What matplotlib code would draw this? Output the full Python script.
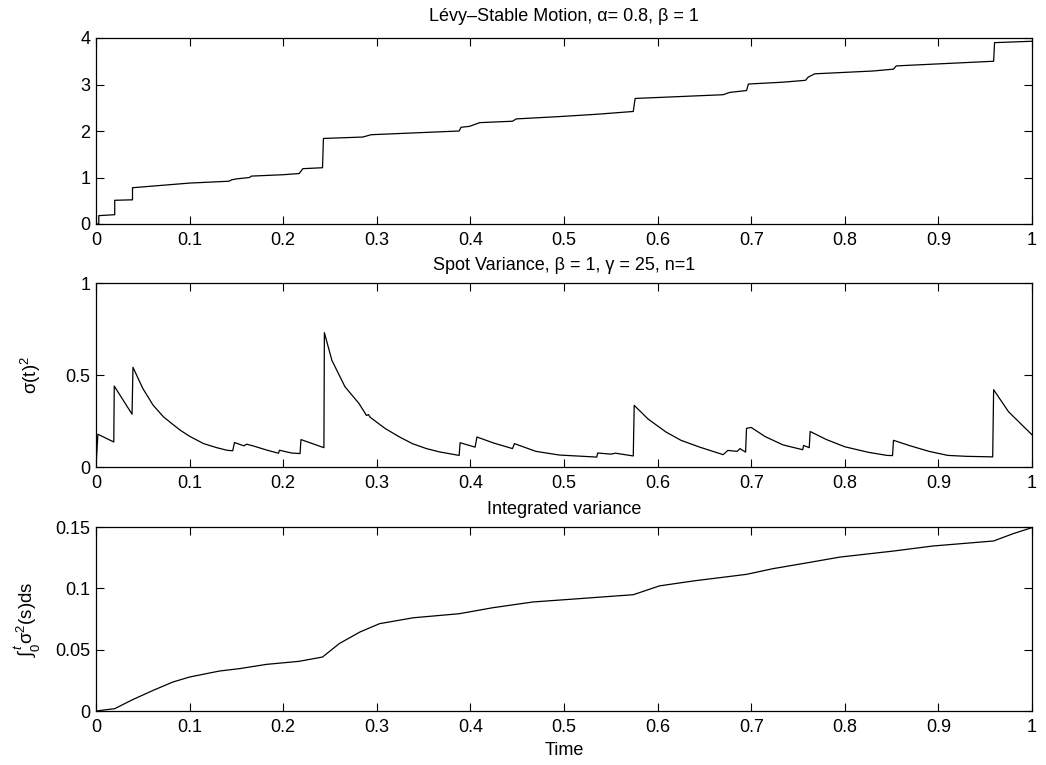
import matplotlib
matplotlib.use("Agg")
import matplotlib.pyplot as plt

plt.rcParams['font.family'] = ['Liberation Sans', 'DejaVu Sans']
plt.rcParams['mathtext.fontset'] = 'custom'
plt.rcParams['mathtext.rm'] = 'Liberation Sans'
plt.rcParams['mathtext.it'] = 'Liberation Sans:italic'
plt.rcParams['mathtext.bf'] = 'Liberation Sans:bold'
plt.rcParams['mathtext.fallback'] = 'stixsans'

# ---- Panel 1: Levy-stable motion (step path) ----
levy_t = [0.0, 0.003, 0.003, 0.020, 0.020, 0.039, 0.039, 0.100, 0.142, 0.145, 0.150,
          0.164, 0.166, 0.200, 0.217, 0.221, 0.242, 0.243, 0.285, 0.294, 0.388,
          0.390, 0.399, 0.410, 0.445, 0.449, 0.495, 0.535, 0.574, 0.576, 0.670,
          0.677, 0.695, 0.697, 0.734, 0.758, 0.761, 0.768, 0.830, 0.852, 0.855,
          0.959, 0.960, 1.0]
levy_v = [0.0, 0.0, 0.18, 0.20, 0.51, 0.52, 0.78, 0.88, 0.92, 0.95, 0.97,
          1.00, 1.03, 1.06, 1.085, 1.19, 1.21, 1.84, 1.87, 1.92, 2.00,
          2.08, 2.10, 2.18, 2.21, 2.26, 2.31, 2.36, 2.42, 2.70, 2.78,
          2.83, 2.87, 3.01, 3.05, 3.09, 3.16, 3.23, 3.29, 3.33, 3.40,
          3.50, 3.90, 3.93]

# ---- Panel 2: spot variance ----
spot_t = [0.0, 0.002, 0.019, 0.0195, 0.0385, 0.0395, 0.050, 0.061, 0.072, 0.081,
          0.090, 0.100, 0.115, 0.129, 0.140, 0.146, 0.148, 0.158, 0.161, 0.169,
          0.183, 0.195, 0.196, 0.209, 0.218, 0.219, 0.2435, 0.244, 0.252, 0.266,
          0.281, 0.289, 0.291, 0.293, 0.309, 0.324, 0.338, 0.353, 0.367, 0.388,
          0.389, 0.405, 0.407, 0.425, 0.445, 0.447, 0.470, 0.495, 0.535, 0.536,
          0.550, 0.555, 0.574, 0.575, 0.590, 0.609, 0.625, 0.645, 0.670, 0.675,
          0.685, 0.688, 0.694, 0.695, 0.700, 0.715, 0.734, 0.755, 0.756, 0.762,
          0.763, 0.780, 0.800, 0.825, 0.845, 0.851, 0.852, 0.870, 0.890, 0.910,
          0.930, 0.958, 0.959, 0.975, 1.0]
spot_v = [0.0, 0.178, 0.136, 0.440, 0.287, 0.542, 0.427, 0.336, 0.273, 0.236,
          0.200, 0.167, 0.127, 0.105, 0.091, 0.088, 0.133, 0.115, 0.124, 0.113,
          0.091, 0.075, 0.091, 0.076, 0.073, 0.149, 0.105, 0.730, 0.580, 0.436,
          0.345, 0.280, 0.285, 0.270, 0.209, 0.164, 0.127, 0.100, 0.082, 0.063,
          0.132, 0.108, 0.163, 0.130, 0.100, 0.127, 0.085, 0.065, 0.054, 0.076,
          0.070, 0.075, 0.060, 0.335, 0.260, 0.190, 0.145, 0.108, 0.067, 0.090,
          0.085, 0.100, 0.081, 0.210, 0.215, 0.165, 0.120, 0.094, 0.117, 0.105,
          0.193, 0.150, 0.110, 0.080, 0.063, 0.062, 0.145, 0.115, 0.085, 0.063,
          0.058, 0.055, 0.420, 0.300, 0.175]

# ---- Panel 3: integrated variance ----
iv_t = [0.0, 0.020, 0.039, 0.061, 0.082, 0.100, 0.132, 0.153, 0.182, 0.217,
        0.242, 0.260, 0.282, 0.303, 0.339, 0.388, 0.424, 0.467, 0.502, 0.574,
        0.602, 0.638, 0.695, 0.723, 0.759, 0.795, 0.852, 0.894, 0.959, 0.980, 1.0]
iv_v = [0.0, 0.0019, 0.0092, 0.0168, 0.0236, 0.0277, 0.0326, 0.0345, 0.0380, 0.0405,
        0.0440, 0.0550, 0.0644, 0.0712, 0.0760, 0.0793, 0.0842, 0.0889, 0.0908, 0.0948,
        0.1020, 0.1060, 0.1114, 0.1160, 0.1207, 0.1255, 0.1304, 0.1345, 0.1386, 0.1446, 0.1495]

x_ticks = [0, 0.1, 0.2, 0.3, 0.4, 0.5, 0.6, 0.7, 0.8, 0.9, 1]
x_labels = ['0', '0.1', '0.2', '0.3', '0.4', '0.5', '0.6', '0.7', '0.8', '0.9', '1']

titles = ['Lévy\u2013Stable Motion, α= 0.8, β = 1',
          'Spot Variance, β = 1, γ = 25, n=1',
          'Integrated variance']

W, H = 1046, 765
fig = plt.figure(figsize=(W / 100, H / 100), dpi=100)

left = 96 / W
width = (1032 - 96) / W
boxes = [(38, 224), (283, 467), (527, 711)]
axes = []
for top, bot in boxes:
    ax = fig.add_axes([left, 1 - bot / H, width, (bot - top) / H])
    axes.append(ax)

FS = 13
for ax in axes:
    ax.set_xlim(0, 1)
    ax.set_xticks(x_ticks)
    ax.set_xticklabels(x_labels)
    ax.tick_params(direction='in', length=6, width=0.8, top=True, right=True,
                   labelsize=FS, colors='black')
    ax.tick_params(axis='x', pad=6)
    ax.tick_params(axis='y', pad=4)
    for s in ax.spines.values():
        s.set_linewidth(0.9)

ax1, ax2, ax3 = axes
ax1.plot(levy_t, levy_v, color='black', lw=0.9)
ax1.set_ylim(0, 4)
ax1.set_yticks([0, 1, 2, 3, 4])
ax1.set_yticklabels(['0', '1', '2', '3', '4'])
ax1.set_title(titles[0], fontsize=FS, pad=12)

ax2.plot(spot_t, spot_v, color='black', lw=0.9)
ax2.set_ylim(0, 1)
ax2.set_yticks([0, 0.5, 1])
ax2.set_yticklabels(['0', '0.5', '1'])
ax2.set_title(titles[1], fontsize=FS, pad=9)
ax2.set_ylabel('σ(t)$^2$', fontsize=FS + 0.5)

ax3.plot(iv_t, iv_v, color='black', lw=0.9)
ax3.set_ylim(0, 0.15)
ax3.set_yticks([0, 0.05, 0.1, 0.15])
ax3.set_yticklabels(['0', '0.05', '0.1', '0.15'])
ax3.set_title(titles[2], fontsize=FS, pad=9)
ax3.set_ylabel(r'$\int_0^t$σ$^2$(s)ds', fontsize=FS + 0.5)
ax3.set_xlabel('Time', fontsize=FS, labelpad=4)

ax2.yaxis.set_label_coords(-0.057, 0.5)
ax3.yaxis.set_label_coords(-0.057, 0.5)

fig.savefig('out.png', dpi=100)
